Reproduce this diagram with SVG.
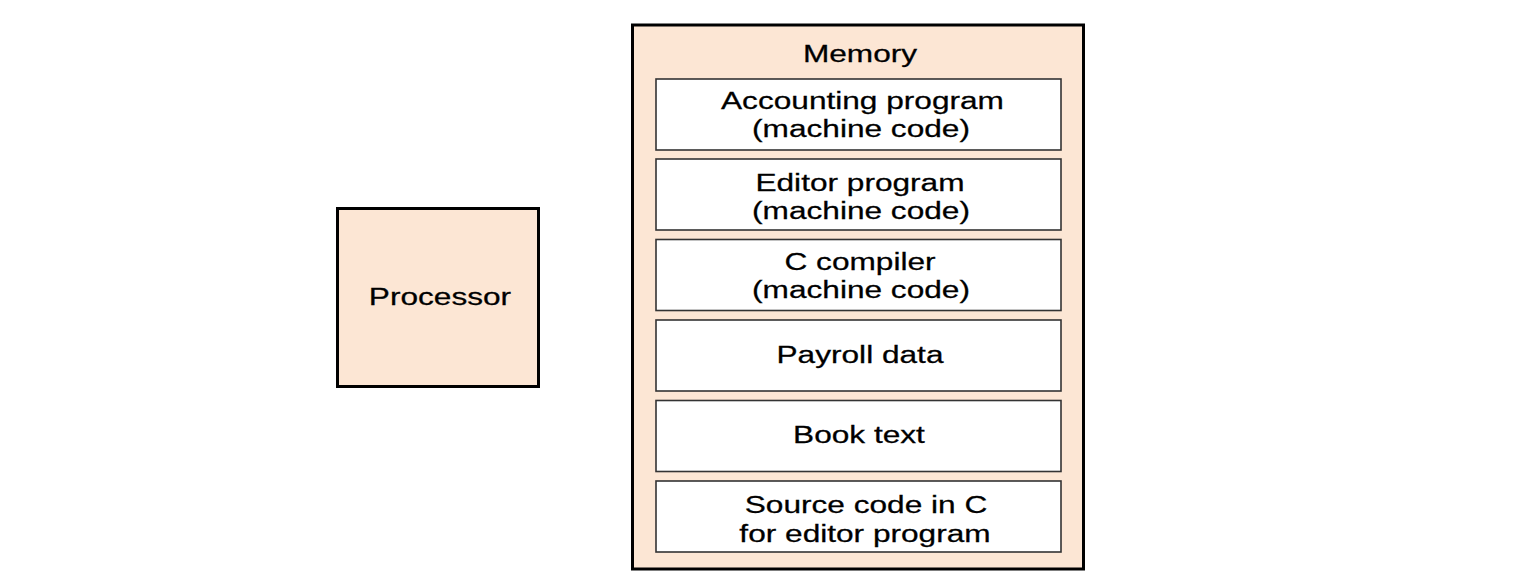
<svg xmlns="http://www.w3.org/2000/svg" width="1530" height="584" viewBox="0 0 1530 584">
<style>
.outer{fill:#FCE6D4;stroke:#000;stroke-width:3}
.cell{fill:#fff;stroke:#333;stroke-width:1.6}
.t{font-family:"Liberation Sans",Arial,sans-serif;font-size:23px;fill:#000;stroke:#000;stroke-width:0.25;text-anchor:middle}
</style>
<rect width="1530" height="584" fill="#fff"/>
<g id="processor">
<rect class="outer" x="337.5" y="208.5" width="201" height="178"/>
<text class="t" transform="translate(440,305) scale(1.375,1)">Processor</text>
</g>
<g id="memory">
<rect class="outer" x="632.5" y="25" width="451" height="544"/>
<text class="t" transform="translate(860,62) scale(1.375,1)">Memory</text>
</g>
<g id="accounting">
<rect class="cell" x="656" y="79" width="405" height="71"/>
<text class="t" transform="translate(862.5,109) scale(1.375,1)">Accounting program</text>
<text class="t" transform="translate(861,137) scale(1.375,1)">(machine code)</text>
</g>
<g id="editor">
<rect class="cell" x="656" y="159" width="405" height="71"/>
<text class="t" transform="translate(860,191) scale(1.375,1)">Editor program</text>
<text class="t" transform="translate(861,218.5) scale(1.375,1)">(machine code)</text>
</g>
<g id="ccompiler">
<rect class="cell" x="656" y="239.5" width="405" height="71"/>
<text class="t" transform="translate(860,269.5) scale(1.375,1)">C compiler</text>
<text class="t" transform="translate(861,298) scale(1.375,1)">(machine code)</text>
</g>
<g id="payroll">
<rect class="cell" x="656" y="320" width="405" height="71"/>
<text class="t" transform="translate(860,363) scale(1.375,1)">Payroll data</text>
</g>
<g id="book">
<rect class="cell" x="656" y="400.5" width="405" height="71"/>
<text class="t" transform="translate(859,443) scale(1.375,1)">Book text</text>
</g>
<g id="source">
<rect class="cell" x="656" y="481" width="405" height="71"/>
<text class="t" transform="translate(866,513) scale(1.375,1)">Source code in C</text>
<text class="t" transform="translate(865,541.5) scale(1.375,1)">for editor program</text>
</g>
<g id="connectors"></g>
</svg>
